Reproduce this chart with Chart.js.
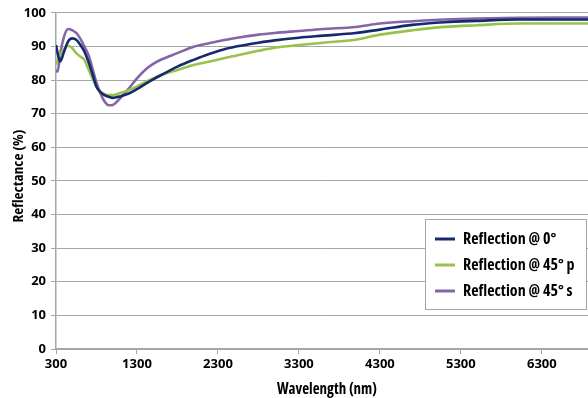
<!DOCTYPE html>
<html>
<head>
<meta charset="utf-8">
<script src="https://cdn.jsdelivr.net/npm/chart.js@4.4.1/dist/chart.umd.min.js"></script>
<style>
  html, body { margin: 0; padding: 0; background: #fff; }
</style>
</head>
<body>
<canvas id="reflChart" width="588" height="398"></canvas>
<script>
const wavelengths = [300, 320, 350, 400, 450, 500, 550, 600, 650, 700, 750, 800, 850, 900, 950, 1000,
    1100, 1200, 1300, 1400, 1500, 1600, 1800, 2000, 2200, 2400, 2600, 2800, 3000, 3300, 3600, 4000,
    4300, 4700, 5100, 5500, 6000, 6500, 6870];

const refl0 = [90.4, 88, 85.5, 88.5, 91.5, 92.4, 92, 90.5, 88.5, 85.5, 81.8, 78, 76.4, 75.5, 75, 74.7,
    75.2, 76, 77.3, 78.8, 80.2, 81.5, 84, 86, 87.8, 89.3, 90.3, 91.1, 91.8, 92.6, 93.2, 94,
    95, 96.4, 97.2, 97.6, 98, 98, 98];

const refl45p = [84.6, 85.8, 87.5, 89.2, 90.2, 89.5, 88, 87, 86, 83.3, 80.5, 78, 76.5, 75.8, 75.5, 75.5,
    76.2, 77, 78.1, 79.3, 80.5, 81.5, 83, 84.5, 85.5, 86.6, 87.7, 88.7, 89.6, 90.4, 91.1, 92,
    93.5, 94.8, 95.8, 96.3, 96.8, 96.8, 96.8];

const refl45s = [83, 82.5, 87.5, 93, 95.2, 94.8, 94, 92.3, 90, 87.5, 83.5, 79.2, 76, 73.6, 72.5, 72.6,
    74.8, 77.5, 80.5, 83, 84.8, 86.1, 88, 89.9, 91, 92, 92.8, 93.5, 94, 94.6, 95.2, 95.8,
    96.8, 97.5, 98, 98.3, 98.5, 98.6, 98.6];

const seriesLabels = ['Reflection @ 0°', 'Reflection @ 45° p', 'Reflection @ 45° s'];
const xTicks = [300, 1300, 2300, 3300, 4300, 5300, 6300];

const COLORS = ['#142a6c', '#98c24c', '#8466a8'];
const axisColor = '#a6a6a6';
const fontFamily = "'Open Sans', sans-serif";
const tickFont = { family: fontFamily, size: 13, weight: 'bold', style: 'condensed' };

function setFont(ctx, size) {
    ctx.font = 'bold ' + size + 'px ' + fontFamily;
    ctx.fontStretch = 'condensed';
}

// legend box inside the plot, lower right
const boxLegend = {
    id: 'boxLegend',
    afterDatasetsDraw(chart) {
        const ctx = chart.ctx;
        ctx.save();
        ctx.fillStyle = '#fff';
        ctx.strokeStyle = axisColor;
        ctx.lineWidth = 1;
        ctx.fillRect(425.5, 219.5, 161, 90);
        ctx.strokeRect(425.5, 219.5, 161, 90);
        chart.data.datasets.forEach((ds, i) => {
            const y = 239 + i * 26;
            ctx.strokeStyle = ds.borderColor;
            ctx.lineWidth = 3;
            ctx.beginPath();
            ctx.moveTo(435, y);
            ctx.lineTo(455, y);
            ctx.stroke();
            ctx.fillStyle = '#000';
            setFont(ctx, 16);
            ctx.textBaseline = 'middle';
            ctx.fillText(ds.label, 463, y);
        });
        ctx.restore();
    },
};

// axis titles, squeezed to a set width to look like a condensed face
function drawFitted(ctx, text, cx, cy, width, size, angle) {
    ctx.save();
    setFont(ctx, size);
    ctx.textAlign = 'center';
    ctx.textBaseline = 'middle';
    ctx.fillStyle = '#000';
    const sx = width / ctx.measureText(text).width;
    ctx.translate(cx, cy);
    ctx.rotate(angle);
    ctx.scale(sx, 1);
    ctx.fillText(text, 0, 0);
    ctx.restore();
}

const narrowTitles = {
    id: 'narrowTitles',
    afterDraw(chart) {
        const { x, y } = chart.options.scales;
        drawFitted(chart.ctx, x.title.text, 327, 389, 100, 16, 0);
        drawFitted(chart.ctx, y.title.text, 19, 176, 93, 15, -Math.PI / 2);
    },
};

const series = [refl0, refl45p, refl45s];
const datasets = series.map((vals, i) => ({
    label: seriesLabels[i],
    data: wavelengths.map((w, j) => ({ x: w, y: vals[j] })),
    borderColor: COLORS[i],
    backgroundColor: COLORS[i],
    borderWidth: 2.6,
    pointRadius: 0,
    cubicInterpolationMode: 'monotone',
    fill: false,
}));

new Chart(document.getElementById('reflChart'), {
    type: 'line',
    data: { datasets },
    plugins: [boxLegend, narrowTitles],
    options: {
        responsive: false,
        animation: false,
        layout: { padding: { top: 11, right: 0, left: 0, bottom: 0 } },
        plugins: { legend: { display: false }, tooltip: { enabled: false } },
        scales: {
            x: {
                type: 'linear',
                min: 300,
                max: 6870,
                afterBuildTicks: s => { s.ticks = xTicks.map(v => ({ value: v })); },
                afterFit: s => { s.height = 49; },
                grid: { drawOnChartArea: false, color: axisColor, tickLength: 5 },
                border: { color: axisColor, width: 1.5 },
                ticks: {
                    color: '#000', padding: 2, maxRotation: 0, autoSkip: false,
                    font: tickFont,
                    callback: v => String(v),
                },
                title: { display: false, text: 'Wavelength (nm)' },
            },
            y: {
                min: 0,
                max: 100,
                afterFit: s => { s.width = 56; },
                grid: { color: axisColor, tickLength: 5 },
                border: { color: axisColor, width: 1.5 },
                ticks: {
                    stepSize: 10, color: '#000', padding: 5,
                    font: tickFont,
                },
                title: { display: false, text: 'Reflectance (%)' },
            },
        },
    },
});
</script>
</body>
</html>
